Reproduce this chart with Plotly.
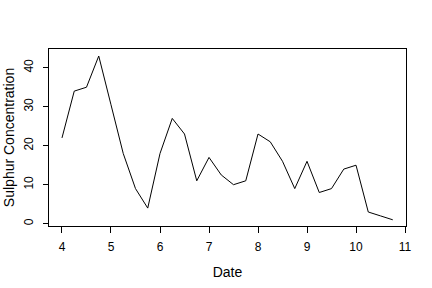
import plotly.graph_objects as go

dates = [4.0, 4.25, 4.5, 4.75, 5.0, 5.25, 5.5, 5.75, 6.0, 6.25, 6.5, 6.75, 7.0, 7.25,
         7.5, 7.75, 8.0, 8.25, 8.5, 8.75, 9.0, 9.25, 9.5, 9.75, 10.0, 10.25, 10.5, 10.75]
sulphur = [22, 34, 35, 43, 30.5, 18, 9, 4, 18, 27, 23, 11, 17, 12.5,
           10, 11, 23, 21, 16, 9, 16, 8, 9, 14, 15, 3, 2, 1]
x_ticks = [4, 5, 6, 7, 8, 9, 10, 11]
y_ticks = [0, 10, 20, 30, 40]

fig = go.Figure()
fig.add_trace(go.Scatter(x=dates, y=sulphur, mode="lines",
                         line=dict(color="black", width=1), showlegend=False))

font = dict(family="Liberation Sans, Arial, Helvetica, sans-serif", size=12, color="black")
fig.update_layout(
    width=432, height=288,
    margin=dict(l=49, r=26, t=49, b=62),
    paper_bgcolor="white", plot_bgcolor="white",
    font=font,
    xaxis=dict(range=[3.735, 11.02], tickvals=x_ticks, ticks="outside", ticklen=6,
               tickcolor="black", showline=True, linecolor="black", linewidth=1,
               mirror=True, showgrid=False, zeroline=False, ticklabelstandoff=4,
               automargin=False,
               title=dict(text="Date", standoff=13)),
    yaxis=dict(range=[-0.59, 44.8], tickvals=y_ticks, ticks="outside", ticklen=5,
               tickcolor="black", showline=True, linecolor="black", linewidth=1,
               mirror=True, showgrid=False, zeroline=False, tickangle=-90,
               ticklabelstandoff=5, automargin=False,
               title=dict(text="Sulphur Concentration", standoff=4)),
)
fig.write_html("out.html")
